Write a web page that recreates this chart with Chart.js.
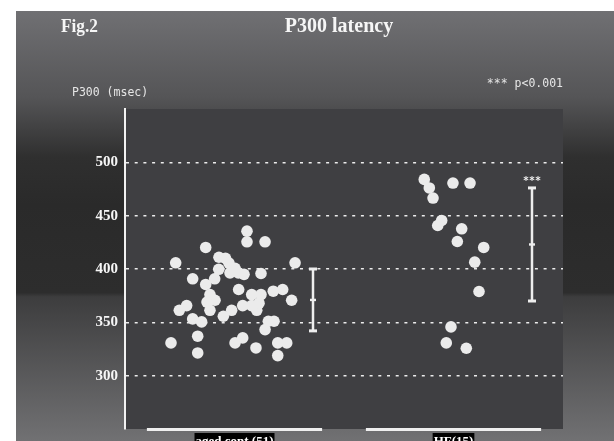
<!DOCTYPE html>
<html><head><meta charset="utf-8">
<script src="https://cdn.jsdelivr.net/npm/chart.js@4"></script>
<style>html,body{margin:0;padding:0;background:#fff;}#wrap{width:614px;height:441px;position:relative;}</style>
</head><body><div id="wrap"><canvas id="c" width="614" height="441"></canvas></div>
<script>
// ---- data ----
const categories = ['aged cont (51)', 'HF(15)'];
const groupCenters = [1, 3];
const yTicks = [300, 350, 400, 450, 500];
const controlValues = [435.5, 425.5, 425.5, 420.2, 405.8, 405.8, 411, 410, 405.5, 400.7, 399.7, 396.4, 396.4, 399,
  395.8, 390.8, 390.8, 385.5, 380.8, 379.2, 380.8, 376, 376, 376, 370.7, 370.7, 365.7, 361.3, 361.3, 365.7, 365.7,
  361.3, 361.3, 355.7, 353.2, 350.4, 351, 351, 343.2, 337, 330.7, 330.7, 335.4, 330.7, 330.7, 326, 321.3, 318.8,
  395, 369, 368];
const controlJitter = [0.114, 0.114, 0.279, -0.263, -0.537, 0.553, -0.142, -0.082, -0.050, 0.005, -0.144, -0.041, 0.035, -0.018,
  0.242, -0.382, -0.181, -0.263, 0.038, 0.354, 0.440, 0.157, 0.242, -0.224, -0.178, 0.522, -0.437, -0.504, -0.224, 0.075, 0.157,
  0.203, -0.026, -0.102, -0.382, -0.300, 0.309, 0.361, 0.279, -0.336, -0.580, 0.005, 0.075, 0.395, 0.477, 0.196, -0.336, 0.395,
  0.087, -0.251, 0.224];
const hfValues = [484, 476, 466.5, 480.6, 480.6, 445.5, 440.8, 437.7, 425.8, 420.2, 406.4, 378.9, 345.7, 330.7, 325.7];
const hfJitter = [-0.267, -0.221, -0.187, -0.005, 0.151, -0.108, -0.144, 0.075, 0.035, 0.276, 0.194, 0.233, -0.023, -0.066, 0.117];
const groupMeans = [371, 423];
const groupSDs = [29, 53];
const significance = ['', '***'];

const toPoints = (vals, jit, c) => vals.map((v, i) => ({x: c + jit[i], y: v}));

const decor = {
  id: 'decor',
  beforeDraw(chart) {
    const {ctx, chartArea: a} = chart;
    ctx.save();
    ctx.fillStyle = '#ffffff';
    ctx.fillRect(0, 0, 614, 441);
    const g = ctx.createLinearGradient(0, 11, 0, 441);
    g.addColorStop(0, '#707073');
    g.addColorStop(0.2, '#555557');
    g.addColorStop(0.34, '#2f2f2f');
    g.addColorStop(0.45, '#2a2a2a');
    g.addColorStop(0.655, '#2d2d2d');
    g.addColorStop(0.665, '#3d3d3e');
    g.addColorStop(1, '#717173');
    ctx.fillStyle = g;
    ctx.fillRect(16, 11, 614 - 16, 441 - 11);
    ctx.fillStyle = '#3f3f42';
    ctx.fillRect(a.left, a.top, a.right - a.left, a.bottom - a.top);
    ctx.restore();
  },
  afterDatasetsDraw(chart) {
    const {ctx} = chart;
    const xs = chart.scales.x, ys = chart.scales.y;
    ctx.save();
    ctx.fillStyle = '#eeeeee';
    ctx.strokeStyle = '#eeeeee';
    groupMeans.forEach((m, i) => {
      const cx = Math.round(xs.getPixelForValue(groupCenters[i] + 0.717));
      const top = ys.getPixelForValue(m + groupSDs[i]);
      const bot = ys.getPixelForValue(m - groupSDs[i]);
      const mid = ys.getPixelForValue(m);
      ctx.lineWidth = 2.5;
      ctx.beginPath(); ctx.moveTo(cx, top); ctx.lineTo(cx, bot); ctx.stroke();
      ctx.fillRect(cx - 4, top - 1.5, 8, 3);
      ctx.fillRect(cx - 4, bot - 1.5, 8, 3);
      ctx.fillRect(cx - 3, mid - 1.2, 6, 2.4);
      if (significance[i]) {
        ctx.font = 'bold 10px "DejaVu Sans Mono"';
        ctx.textAlign = 'center';
        ctx.textBaseline = 'middle';
        ctx.fillText(significance[i], cx, top - 7);
      }
    });
    ctx.restore();
  },
  afterDraw(chart) {
    const {ctx, chartArea: a} = chart;
    const xs = chart.scales.x;
    ctx.save();
    ctx.fillStyle = '#efefef';
    groupCenters.forEach(c => {
      const x1 = xs.getPixelForValue(c - 0.8), x2 = xs.getPixelForValue(c + 0.8);
      ctx.fillRect(x1, a.bottom - 1, x2 - x1, 3);
    });
    // category labels with black backdrop
    ctx.font = 'bold 13px "Liberation Serif"';
    ctx.textAlign = 'center';
    ctx.textBaseline = 'alphabetic';
    groupCenters.forEach((c, i) => {
      const cx = xs.getPixelForValue(c);
      const w = ctx.measureText(categories[i]).width + 2;
      ctx.fillStyle = '#000000';
      ctx.fillRect(cx - w / 2, a.bottom + 4, w, 20);
      ctx.fillStyle = '#ffffff';
      ctx.fillText(categories[i], cx, a.bottom + 15.5);
    });
    ctx.fillStyle = '#f6f6f6';
    ctx.textBaseline = 'middle';
    ctx.font = 'bold 19px "Liberation Serif"';
    ctx.textAlign = 'left';
    ctx.fillText('Fig.2', 61, 27, 37);
    ctx.textAlign = 'center';
    ctx.font = 'bold 20px "Liberation Serif"';
    ctx.fillText('P300 latency', 339, 27);
    ctx.fillStyle = '#e6e6e6';
    ctx.font = '11.5px "DejaVu Sans Mono"';
    ctx.textAlign = 'left';
    ctx.fillText('P300 (msec)', 72, 93);
    ctx.textAlign = 'right';
    ctx.fillText('*** p<0.001', 563, 84);
    ctx.restore();
  }
};

new Chart(document.getElementById('c'), {
  type: 'scatter',
  data: {
    datasets: [
      {label: categories[0], data: toPoints(controlValues, controlJitter, groupCenters[0]),
       backgroundColor: '#ebebeb', borderWidth: 0, pointRadius: 5.8},
      {label: categories[1], data: toPoints(hfValues, hfJitter, groupCenters[1]),
       backgroundColor: '#ebebeb', borderWidth: 0, pointRadius: 5.8}
    ]
  },
  options: {
    responsive: false,
    animation: false,
    layout: {padding: {left: 16, top: 109, right: 51, bottom: 12}},
    plugins: {legend: {display: false}, tooltip: {enabled: false}},
    scales: {
      x: {
        type: 'linear', min: 0, max: 4, display: false
      },
      y: {
        min: 250, max: 550,
        afterFit: s => { s.width = 109; s.paddingTop = 0; s.paddingBottom = 0; },
        afterBuildTicks: s => { s.ticks = [250].concat(yTicks, [550]).map(v => ({value: v})); },
        grid: {
          drawTicks: false, lineWidth: 1.5,
          color: c => (c.tick && yTicks.includes(c.tick.value)) ? 'rgba(255,255,255,0.9)' : 'rgba(0,0,0,0)'
        },
        border: {display: true, color: '#f2f2f2', width: 2, dash: [3, 5.7]},
        ticks: {
          callback: v => yTicks.includes(v) ? String(v) : '',
          color: '#f6f6f6', padding: 7,
          font: {family: 'Liberation Serif', size: 15, weight: 'bold'}
        }
      }
    }
  },
  plugins: [decor]
});
</script>
</body></html>
